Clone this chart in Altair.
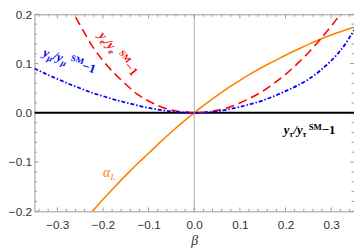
import altair as alt
import pandas as pd

# ---------------- data ----------------
beta_alpha = [-0.225, -0.2, -0.175, -0.15, -0.125, -0.1, -0.075, -0.05, -0.025, 0.0,
              0.025, 0.05, 0.075, 0.1, 0.125, 0.15, 0.175, 0.2, 0.225, 0.25, 0.275, 0.3, 0.325, 0.35]
alpha_L = [-0.202, -0.176, -0.151, -0.127, -0.104, -0.082, -0.060, -0.039, -0.019, 0.0,
           0.018, 0.035, 0.051, 0.066, 0.080, 0.093, 0.105, 0.117, 0.128, 0.139, 0.149, 0.158, 0.166, 0.174]

beta_e = [-0.275, -0.25, -0.225, -0.2, -0.175, -0.15, -0.125, -0.1, -0.075, -0.05, -0.025, 0.0,
          0.025, 0.05, 0.075, 0.1, 0.125, 0.15, 0.175, 0.2, 0.225, 0.25, 0.275, 0.3, 0.325, 0.35]
y_e = [0.218, 0.178, 0.138, 0.106, 0.080, 0.058, 0.038, 0.024, 0.013, 0.006, 0.0015, 0.0,
       0.0012, 0.005, 0.011, 0.020, 0.031, 0.044, 0.060, 0.078, 0.099, 0.122, 0.148, 0.176, 0.206, 0.240]

beta_mu = [-0.35, -0.325, -0.3, -0.275, -0.25, -0.225, -0.2, -0.175, -0.15, -0.125, -0.1, -0.075, -0.05,
           -0.025, 0.0, 0.025, 0.05, 0.075, 0.1, 0.125, 0.15, 0.175, 0.2, 0.225, 0.25, 0.275, 0.3, 0.325, 0.35]
y_mu = [0.090, 0.079, 0.069, 0.059, 0.050, 0.041, 0.034, 0.027, 0.021, 0.015, 0.010, 0.006, 0.003,
        0.001, 0.0, 0.001, 0.003, 0.007, 0.012, 0.018, 0.025, 0.034, 0.044, 0.055, 0.068, 0.085, 0.106, 0.132, 0.168]

beta_tau = [-0.35, 0.35]
y_tau = [0.0, 0.0]

x_major = [-0.3, -0.2, -0.1, 0.0, 0.1, 0.2, 0.3]
x_minor = [-0.34, -0.32, -0.28, -0.26, -0.24, -0.22, -0.18, -0.16, -0.14, -0.12, -0.08, -0.06, -0.04, -0.02,
           0.02, 0.04, 0.06, 0.08, 0.12, 0.14, 0.16, 0.18, 0.22, 0.24, 0.26, 0.28, 0.32, 0.34]
y_major = [-0.2, -0.1, 0.0, 0.1, 0.2]
y_minor = [-0.18, -0.16, -0.14, -0.12, -0.08, -0.06, -0.04, -0.02,
           0.02, 0.04, 0.06, 0.08, 0.12, 0.14, 0.16, 0.18]

# ---------------- layout / style ----------------
W, H = 326, 201
FRAME = "#999999"
RED, BLUE, ORANGE = "#ff0000", "#0000ff", "#ff8000"

xs = alt.Scale(domain=[-0.35, 0.35], nice=False, zero=False)
ys = alt.Scale(domain=[-0.2, 0.2], nice=False, zero=False)

x_axis = alt.Axis(values=x_major, format=".1f", title="β", grid=False, domain=False, ticks=False,
                  labelFont="Liberation Sans", labelFontSize=12, labelColor="#333333", labelPadding=9,
                  titleFont="Liberation Serif", titleFontStyle="italic", titleFontWeight="normal",
                  titleFontSize=14, titleColor="#333333", titlePadding=3)
y_axis = alt.Axis(values=y_major, format=".1f", title=None, grid=False, domain=False, ticks=False,
                  labelFont="Liberation Sans", labelFontSize=12, labelColor="#333333", labelPadding=3)


def X(field):
    return alt.X(field, scale=xs, axis=x_axis)


def Y(field):
    return alt.Y(field, scale=ys, axis=y_axis)


def line(bx, vy, color, dash=None, width=1.6):
    df = pd.DataFrame({"b": bx, "v": vy})
    kw = dict(color=color, strokeWidth=width, clip=True, interpolate="monotone")
    if dash:
        kw["strokeDash"] = dash
    return alt.Chart(df).mark_line(**kw).encode(x=X("b:Q"), y=Y("v:Q"))


# zero lines
vline = alt.Chart(pd.DataFrame({"b": [0.0]})).mark_rule(color="#aaaaaa", strokeWidth=1).encode(x=X("b:Q"))
tau = line(beta_tau, y_tau, "#000000", width=2)
orange = line(beta_alpha, alpha_L, ORANGE, width=1.6)
red = line(beta_e, y_e, RED, dash=[9, 5], width=1.6)
blue = line(beta_mu, y_mu, BLUE, dash=[4, 2, 1.5, 2], width=1.8)


# inward frame ticks
def ticks_x(vals, length, top):
    df = pd.DataFrame({"t": vals})
    if top:
        yy, yy2 = alt.value(0), alt.value(length)
    else:
        yy, yy2 = alt.value(H), alt.value(H - length)
    return alt.Chart(df).mark_rule(color=FRAME, strokeWidth=1).encode(x=X("t:Q"), y=yy, y2=yy2)


def ticks_y(vals, length, right):
    df = pd.DataFrame({"t": vals})
    if right:
        xx, xx2 = alt.value(W), alt.value(W - length)
    else:
        xx, xx2 = alt.value(0), alt.value(length)
    return alt.Chart(df).mark_rule(color=FRAME, strokeWidth=1).encode(y=Y("t:Q"), x=xx, x2=xx2)


tick_layers = [ticks_x(x_major, 4, False), ticks_x(x_minor, 2.5, False),
               ticks_x(x_major, 4, True), ticks_x(x_minor, 2.5, True),
               ticks_y(y_major, 4, False), ticks_y(y_minor, 2.5, False),
               ticks_y(y_major, 4, True), ticks_y(y_minor, 2.5, True)]

# composite labels (subscript / superscript pieces)
EM = {"y": 0.444, "e": 0.444, "/": 0.278, "μ": 0.58, "τ": 0.46, "S": 0.556, "M": 0.944,
      "−": 0.57, "1": 0.5, "α": 0.56, "L": 0.611, " ": 0.25}


def label(bx, vy, angle, color, pieces, main=13, small=9, weight="bold", gap=2):
    layers = []
    off = 0.0
    df = pd.DataFrame({"b": [bx], "v": [vy]})
    for text, kind in pieces:
        size = main if kind in ("main", "up") else small
        dy = {"main": 0, "up": 0, "sub": 3, "sup": -5}[kind]
        style = "italic" if kind in ("main", "sub") else "normal"
        if kind == "sup":
            off += gap
        layers.append(alt.Chart(df).mark_text(
            text=text, align="left", baseline="alphabetic", angle=angle, dx=off, dy=dy,
            font="Liberation Serif", fontSize=size, fontStyle=style, fontWeight=weight, color=color
        ).encode(x=X("b:Q"), y=Y("v:Q")))
        off += sum(EM.get(c, 0.5) for c in text) * size
    return layers


lab_e = label(-0.211, 0.156, 50, RED,
              [("y", "main"), ("e", "sub"), ("/", "main"), ("y", "main"), ("e", "sub"), ("SM", "sup"), ("−1", "up")],
              gap=4)
lab_mu = label(-0.333, 0.116, 19, BLUE,
               [("y", "main"), ("μ", "sub"), ("/", "main"), ("y", "main"), ("μ", "sub"), ("SM", "sup"), ("−1", "up")],
               gap=3)
lab_tau = label(0.196, -0.044, 0, "#000000",
                [("y", "main"), ("τ", "sub"), ("/", "main"), ("y", "main"), ("τ", "sub"), ("SM", "sup"), ("−1", "up")])
lab_a = label(-0.200, -0.130, 0, ORANGE, [("α", "main"), ("L", "sub")], main=14, small=9, weight="normal")

chart = alt.layer(
    vline, *tick_layers, tau, orange, red, blue, *lab_e, *lab_mu, *lab_tau, *lab_a
).properties(
    width=W, height=H,
    autosize=alt.AutoSizeParams(type="none"),
    padding={"left": 27, "top": 4, "right": 0, "bottom": 37},
).configure_view(stroke=FRAME, strokeWidth=1)

chart.save("out.html", embed_options={"renderer": "svg", "actions": False})
